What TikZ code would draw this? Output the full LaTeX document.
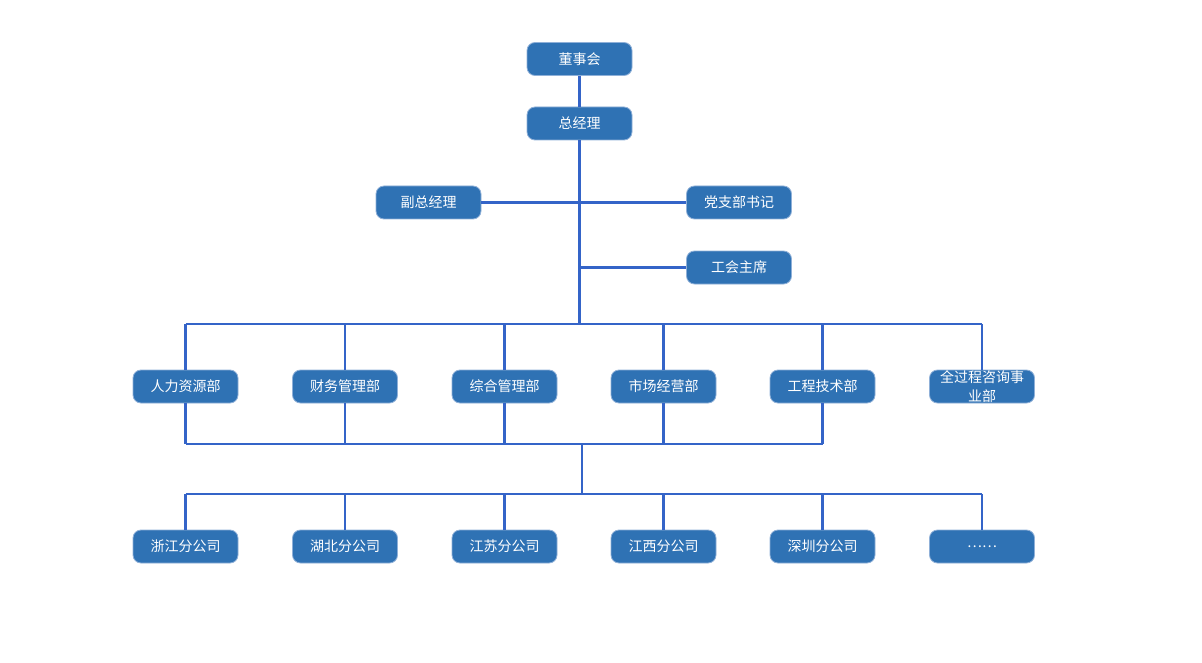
\documentclass[tikz,border=0pt]{standalone}
\usepackage{fontspec}
\newfontfamily\cjk{Noto Sans CJK SC}
\definecolor{boxfill}{HTML}{2F72B4}
\definecolor{boxline}{HTML}{8FB0D8}
\definecolor{conn}{HTML}{3464C8}
\begin{document}
\begin{tikzpicture}[x=1pt,y=-1pt,
  org/.style={draw=boxline,line width=0.8pt,fill=boxfill,rounded corners=8pt,
    minimum width=105pt,minimum height=33pt,inner sep=0pt,text=white,
    font=\cjk\fontsize{14}{14}\selectfont,align=center,text width=100pt},
  wire/.style={draw=conn,line width=2.2pt}]
\useasboundingbox (0,0) rectangle (1202,663);
\fill[white] (0,0) rectangle (1202,663);
% nodes
\node[org] (dsh) at (579.5,59) {董事会};
\node[org] (zjl) at (579.5,123.5) {总经理};
\node[org] (fzjl) at (428.5,202.5) {副总经理};
\node[org] (dzb) at (739,202.5) {党支部书记};
\node[org] (ghz) at (739,267.5) {工会主席};
\node[org] (d1) at (185.5,386.5) {人力资源部};
\node[org] (d2) at (345,386.5) {财务管理部};
\node[org] (d3) at (504.5,386.5) {综合管理部};
\node[org] (d4) at (663.5,386.5) {市场经营部};
\node[org] (d5) at (822.5,386.5) {工程技术部};
\node[org,font=\cjk\fontsize{14}{19}\selectfont] (d6) at (982,386.5) {全过程咨询事\\业部};
\node[org] (b1) at (185.5,546.5) {浙江分公司};
\node[org] (b2) at (345,546.5) {湖北分公司};
\node[org] (b3) at (504.5,546.5) {江苏分公司};
\node[org] (b4) at (663.5,546.5) {江西分公司};
\node[org] (b5) at (822.5,546.5) {深圳分公司};
\node[org] (b6) at (982,546.5) {……};
% coordinates
\coordinate (tb) at (579.5,324);
\coordinate (jg) at (579.5,267.5);
\coordinate (mid1) at (582,444);
\coordinate (mid2) at (582,494);
% connectors
\path[wire] (dsh.south) -- (zjl.north);
\path[wire] (zjl.south) -- (tb);
\path[wire] (fzjl.east) -- (dzb.west);
\path[wire] (jg) -- (ghz.west);
\path[wire] (d1.north |- tb) -- (d6.north |- tb);
\foreach \n in {d1,d2,d3,d4,d5,d6} {\path[wire] (\n.north |- tb) -- (\n.north);}
\foreach \n in {d1,d2,d3,d4,d5} {\path[wire] (\n.south) -- (\n.south |- mid1);}
\path[wire] (d1.south |- mid1) -- (d5.south |- mid1);
\path[wire] (mid1) -- (mid2);
\path[wire] (b1.north |- mid2) -- (b6.north |- mid2);
\foreach \n in {b1,b2,b3,b4,b5,b6} {\path[wire] (\n.north |- mid2) -- (\n.north);}
\end{tikzpicture}
\end{document}
